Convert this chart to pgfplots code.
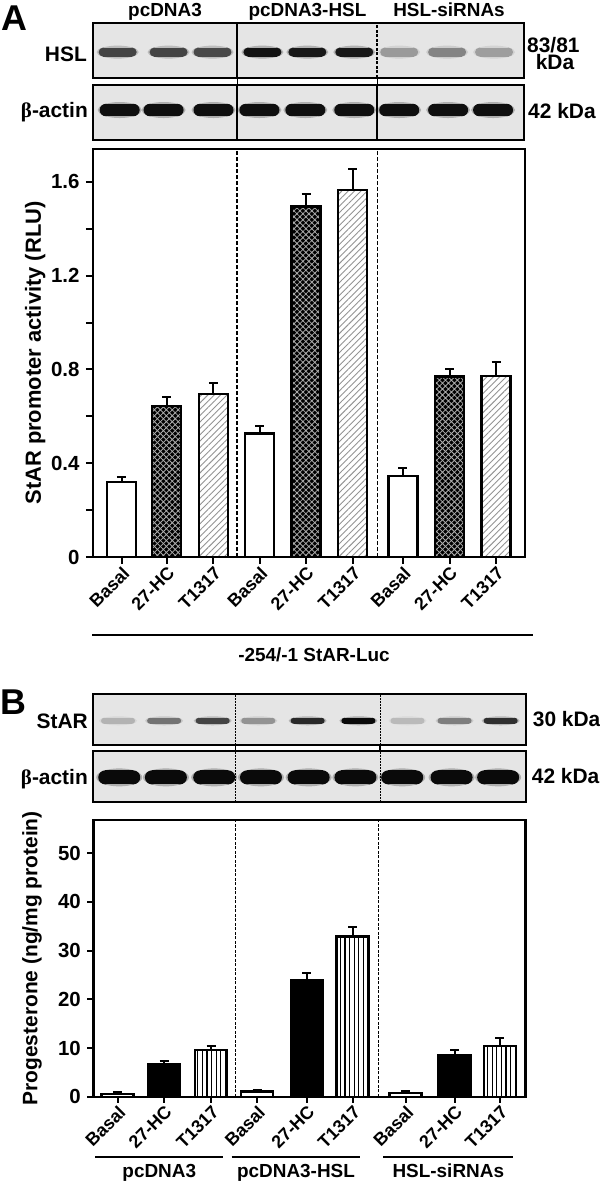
\documentclass[border=0pt]{standalone}
\usepackage{pgfplots}
\pgfplotsset{compat=1.18}
\usepackage{pgfplotstable}
\usepackage{fontspec}
\setmainfont{Liberation Sans}
\newfontfamily\greekserif{Liberation Serif}
\usetikzlibrary{patterns.meta}

\definecolor{blotbg}{gray}{0.9}

% band shapes for the blots: soft halo and a capsule core
\newcommand\capsule[2]{%
  \pgfpathcircle{\pgfpoint{#2-#1}{0bp}}{#2}\pgfusepathqfill
  \pgfpathcircle{\pgfpoint{#1-#2}{0bp}}{#2}\pgfusepathqfill
  \pgfpathrectangle{\pgfpoint{#2-#1}{-#2}}{\pgfpoint{2*#1-2*#2}{2*#2}}\pgfusepathqfill}
\newcommand\halo[2]{%
  \pgfpathellipse{\pgfpointorigin}{\pgfpoint{#1}{0bp}}{\pgfpoint{0bp}{#2}}\pgfusepathqfill}
\pgfdeclareplotmark{hslsoft}{\halo{21bp}{6.5bp}}
\pgfdeclareplotmark{hslcore}{\capsule{19bp}{4.5bp}}
\pgfdeclareplotmark{actsoft}{\halo{22bp}{8bp}}
\pgfdeclareplotmark{actcore}{\capsule{20bp}{6.2bp}}
\pgfdeclareplotmark{starsoft}{\halo{19bp}{4.5bp}}
\pgfdeclareplotmark{starcore}{\capsule{17bp}{3bp}}
\pgfdeclareplotmark{bactsoft}{\halo{23bp}{9bp}}
\pgfdeclareplotmark{bactcore}{\capsule{21bp}{7bp}}

% blot band positions and darkness (0 = blank, 1 = black)
\pgfplotstableread{
x y c
25 -0.07 0.72
76 -0.07 0.72
120 -0.07 0.70
170 -0.07 0.95
215 -0.07 0.93
262 -0.07 0.93
307 -0.07 0.32
355 -0.07 0.42
402 -0.07 0.30
}\hslA
\pgfplotstableread{
x y c
27 0.09 0.97
71 0.09 0.97
121 0.09 0.97
167 0.09 0.97
213 0.09 0.97
262 0.09 0.97
307 0.09 0.97
356 0.09 0.97
401 0.09 0.97
}\actinA
\pgfplotstableread{
x y c
24.7 -0.05 0.20
70.7 -0.05 0.50
119.2 -0.05 0.72
164.7 -0.05 0.35
214 -0.05 0.85
264.7 -0.05 1.00
313.7 -0.05 0.17
360.7 -0.05 0.45
406.7 -0.05 0.82
}\starB
\pgfplotstableread{
x y c
25.9 -0.04 1.0
72.5 -0.04 1.0
120.7 -0.04 1.0
167.4 -0.04 1.0
215 -0.04 1.0
261.7 -0.04 1.0
308.4 -0.04 1.0
357.7 -0.04 1.0
404.2 -0.04 1.0
}\actinB

% panel A: StAR promoter activity (RLU)
\pgfplotstableread{
x y e
28.5 0.321 0.021
166.5 0.527 0.032
309.8 0.345 0.035
}\basalA
\pgfplotstableread{
x y e
73.7 0.645 0.039
213 1.494 0.054
356.5 0.769 0.034
}\hcA
\pgfplotstableread{
x y e
120.3 0.694 0.049
259.7 1.565 0.088
403 0.772 0.061
}\tA

% panel B: progesterone (ng/mg protein)
\pgfplotstableread{
x y e
24.2 0.55 0.40
163.7 1.03 0.35
312.2 0.80 0.40
}\basalB
\pgfplotstableread{
x y e
70.7 6.65 0.75
213.4 23.96 1.50
361.2 8.56 1.05
}\hcB
\pgfplotstableread{
x y e
117.7 9.6 0.85
259.2 32.85 1.95
406.4 10.4 1.70
}\tB

\pgfplotsset{
  blot/.style={scale only axis, anchor=south west, xmin=0, xmax=432, ymin=-1, ymax=1,
    ticks=none, axis line style={line width=2.2bp}, axis on top,
    axis background/.style={fill=blotbg},
    colormap={blotmap}{gray(0cm)=(0.87); gray(1cm)=(0.04)},
    point meta min=0, point meta max=1},
  band/.style={scatter, only marks, point meta=explicit,
    scatter/use mapped color={fill=mapped color, draw=none}},
  panel/.style={scale only axis, anchor=south west, width=432bp, xmin=0, xmax=432,
    ybar, axis line style={line width=2.4bp},
    tick align=outside, xtick pos=lower, ytick pos=left,
    major tick length=7bp, minor tick length=7bp,
    tick style={line width=2bp, black},
    y tick label style={font=\fontsize{20.5}{23}\selectfont},
    x tick label style={rotate=45, anchor=north east, inner sep=1pt,
      font=\fontsize{18}{20}\selectfont},
    xticklabels={Basal,27-HC,T1317,Basal,27-HC,T1317,Basal,27-HC,T1317}},
  bars/.style={bar shift=0pt, draw=black, line width=2.4bp},
  errs/.style={error bars/.cd, y dir=plus, y explicit,
    error bar style={line width=2bp, black},
    error mark options={line width=2bp, mark size=4.5bp, black, rotate=90}},
}

\begin{document}
\fontsize{19}{22}\selectfont\bfseries
\begin{tikzpicture}
\useasboundingbox (0,0) rectangle (600bp,-1182bp);

% ---------------- panel A ----------------
\node[anchor=base west, inner sep=0pt] at (1bp,-30bp) {\fontsize{36}{36}\selectfont A};
\node[anchor=base] at (165bp,-16bp) {pcDNA3};
\node[anchor=base] at (307.5bp,-16bp) {pcDNA3-HSL};
\node[anchor=base] at (449bp,-16bp) {HSL-siRNAs};

\begin{axis}[blot, at={(92.7bp,-77.7bp)}, width=431.3bp, height=55bp]
  \addplot[band, mark=hslsoft, opacity=0.25] table[x=x, y=y, meta=c] {\hslA};
  \addplot[band, mark=hslcore] table[x=x, y=y, meta=c] {\hslA};
  \draw[line width=1.6bp] (axis cs:144.6,-1) -- (axis cs:144.6,1);
  \draw[line width=1.6bp, dash pattern=on 3bp off 1.5bp] (axis cs:284.6,-1) -- (axis cs:284.6,1);
\end{axis}
\begin{axis}[blot, at={(92.7bp,-140bp)}, width=431.3bp, height=55bp]
  \addplot[band, mark=actsoft, opacity=0.25] table[x=x, y=y, meta=c] {\actinA};
  \addplot[band, mark=actcore] table[x=x, y=y, meta=c] {\actinA};
  \draw[line width=1.6bp] (axis cs:144.6,-1) -- (axis cs:144.6,1);
  \draw[line width=1.6bp] (axis cs:284.6,-1) -- (axis cs:284.6,1);
\end{axis}
\draw[line width=1.6bp] (237.3bp,-77.7bp) -- (237.3bp,-85bp);
\draw[line width=1.6bp] (377.3bp,-77.7bp) -- (377.3bp,-85bp);
\node[anchor=base east, inner sep=0pt, font=\fontsize{21}{23}\selectfont] at (87bp,-61.5bp) {HSL};
\node[anchor=base east, inner sep=0pt, font=\fontsize{21}{23}\selectfont] at (88bp,-117bp) {{\greekserif β}-actin};
\node[anchor=base west, inner sep=0pt, font=\fontsize{21}{23}\selectfont] at (527bp,-52bp) {83/81};
\node[anchor=base, inner sep=0pt, font=\fontsize{21}{23}\selectfont] at (555bp,-69.5bp) {kDa};
\node[anchor=base west, inner sep=0pt, font=\fontsize{21}{23}\selectfont] at (528bp,-118bp) {42 kDa};

\begin{axis}[panel, at={(93bp,-557bp)}, height=408bp,
  ymin=0, ymax=1.74, bar width=29,
  ytick={0,0.4,0.8,1.2,1.6}, yticklabels={0,0.4,0.8,1.2,1.6},
  minor ytick={0.2,0.6,1.0,1.4},
  xtick={28.5,73.7,120.3,166.5,213,259.7,309.8,356.5,403},
  ylabel={StAR promoter activity (RLU)},
  ylabel style={at={(axis description cs:-0.134,0.5)}, anchor=center,
    font=\fontsize{22}{24}\selectfont}]
  \addplot[bars, fill=white, errs] table[x=x, y=y, y error=e] {\basalA};
  \addplot[bars, fill=black] table[x=x, y=y] {\hcA};
  \addplot[bars, pattern={Hatch[angle=45, distance=4.2bp, line width=0.8bp]},
    pattern color=gray!65, errs] table[x=x, y=y, y error=e] {\hcA};
  \addplot[bars, fill=white, pattern={Lines[angle=45, distance=4.5bp, line width=0.9bp]},
    pattern color=gray!85, errs] table[x=x, y=y, y error=e] {\tA};
  \draw[line width=1.6bp, dash pattern=on 4bp off 2bp] (axis cs:143.7,0) -- (axis cs:143.7,1.74);
  \draw[line width=1.6bp, dash pattern=on 4bp off 2bp] (axis cs:284.3,0) -- (axis cs:284.3,1.74);
\end{axis}
\draw[line width=2bp] (92bp,-635bp) -- (533bp,-635bp);
\node[anchor=base] at (314bp,-661bp) {-254/-1 StAR-Luc};

% ---------------- panel B ----------------
\node[anchor=base west, inner sep=0pt] at (0bp,-714bp) {\fontsize{36}{36}\selectfont B};

\begin{axis}[blot, at={(93.3bp,-745bp)}, width=432.7bp, height=51bp]
  \addplot[band, mark=starsoft, opacity=0.25] table[x=x, y=y, meta=c] {\starB};
  \addplot[band, mark=starcore] table[x=x, y=y, meta=c] {\starB};
  \draw[line width=1.5bp, dash pattern=on 2bp off 1bp] (axis cs:142,-1) -- (axis cs:142,1);
  \draw[line width=1.5bp, dash pattern=on 2bp off 1bp] (axis cs:286.7,-1) -- (axis cs:286.7,1);
\end{axis}
\begin{axis}[blot, at={(93.3bp,-801.7bp)}, width=432.7bp, height=50.7bp]
  \addplot[band, mark=bactsoft, opacity=0.25] table[x=x, y=y, meta=c] {\actinB};
  \addplot[band, mark=bactcore] table[x=x, y=y, meta=c] {\actinB};
  \draw[line width=1.5bp, dash pattern=on 2bp off 1bp] (axis cs:142,-1) -- (axis cs:142,1);
  \draw[line width=1.5bp, dash pattern=on 2bp off 1bp] (axis cs:286.7,-1) -- (axis cs:286.7,1);
\end{axis}
\draw[line width=1.5bp] (235.3bp,-745bp) -- (235.3bp,-751bp);
\draw[line width=1.5bp] (380bp,-745bp) -- (380bp,-751bp);
\node[anchor=base east, inner sep=0pt, font=\fontsize{21}{23}\selectfont] at (88bp,-728.3bp) {StAR};
\node[anchor=base east, inner sep=0pt, font=\fontsize{21}{23}\selectfont] at (88bp,-784bp) {{\greekserif β}-actin};
\node[anchor=base west, inner sep=0pt, font=\fontsize{21}{23}\selectfont] at (532.7bp,-726.7bp) {30 kDa};
\node[anchor=base west, inner sep=0pt, font=\fontsize{21}{23}\selectfont] at (531.7bp,-783.3bp) {42 kDa};

\begin{axis}[panel, at={(93.3bp,-1096.7bp)}, height=276.7bp,
  ymin=0, ymax=56.8, bar width=32,
  ytick={0,10,20,30,40,50}, yticklabels={0,10,20,30,40,50},
  xtick={24.2,70.7,117.7,163.7,213.4,259.2,312.2,361.2,406.4},
  major tick length=6bp,
  ylabel={Progesterone (ng/mg protein)},
  ylabel style={at={(axis description cs:-0.142,0.5)}, anchor=center,
    font=\fontsize{21}{23}\selectfont}]
  \addplot[bars, fill=white, errs] table[x=x, y=y, y error=e] {\basalB};
  \addplot[bars, fill=black, errs] table[x=x, y=y, y error=e] {\hcB};
  \addplot[bars, fill=white, pattern={Lines[angle=90, distance=4.6bp, line width=1.1bp]},
    pattern color=black, errs] table[x=x, y=y, y error=e] {\tB};
  \draw[line width=1.2bp, dash pattern=on 3bp off 1.5bp] (axis cs:142,0) -- (axis cs:142,56.8);
  \draw[line width=1.2bp, dash pattern=on 3bp off 1.5bp] (axis cs:285,0) -- (axis cs:285,56.8);
\end{axis}
\draw[line width=1.8bp] (95bp,-1156.7bp) -- (223.3bp,-1156.7bp);
\draw[line width=1.8bp] (231.7bp,-1156.7bp) -- (360bp,-1156.7bp);
\draw[line width=1.8bp] (383.3bp,-1156.7bp) -- (512.7bp,-1156.7bp);
\node[anchor=base] at (159.3bp,-1177bp) {pcDNA3};
\node[anchor=base] at (296bp,-1177bp) {pcDNA3-HSL};
\node[anchor=base] at (448.3bp,-1177bp) {HSL-siRNAs};
\end{tikzpicture}
\end{document}
